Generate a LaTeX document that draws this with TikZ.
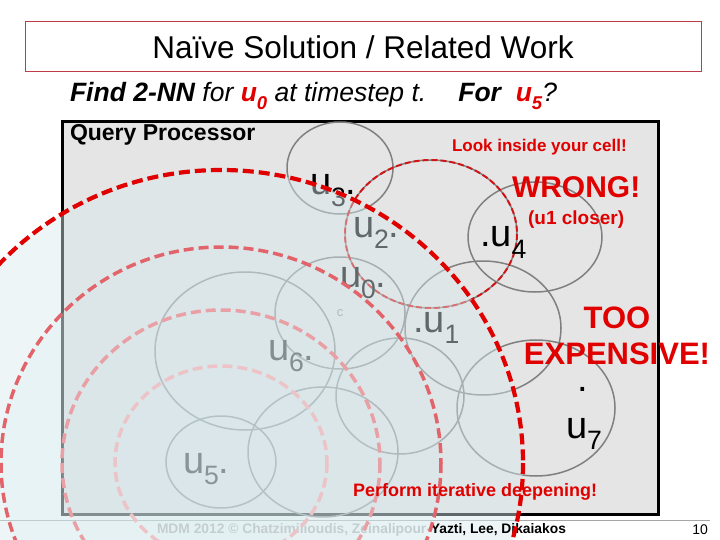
\documentclass[tikz,border=0pt]{standalone}
\usepackage{fontspec}
\setmainfont{Liberation Sans}
\usepackage{graphicx}
\usepackage{tikz}
\usetikzlibrary{positioning}
\definecolor{slidered}{RGB}{225,0,0}
\definecolor{framered}{RGB}{190,60,70}
\definecolor{cellgray}{RGB}{229,229,229}
\definecolor{ringgray}{RGB}{128,128,128}
\definecolor{veil}{RGB}{214,233,237}
\definecolor{ringtwo}{RGB}{226,100,106}
\definecolor{ringthree}{RGB}{232,160,165}
\definecolor{ringfour}{RGB}{236,196,200}
\definecolor{fadedtext}{RGB}{196,206,209}
\newcommand{\subidx}[1]{\raisebox{-0.3em}{\scalebox{0.7}{#1}}}

\begin{document}
\begin{tikzpicture}[x=1pt,y=-1pt,
  txt/.style={inner sep=0pt,outer sep=0pt},
  ptlabel/.style={txt,anchor=base west,font=\fontsize{38}{44}\selectfont},
  cell/.style={draw=ringgray,line width=1.5pt},
  callout/.style={txt,text=slidered,font=\bfseries\fontsize{18}{21}\selectfont},
  ring/.style={line width=3.5pt,dash pattern=on 10pt off 5pt}]
\clip (0,0) rectangle (720,540);
\node[draw=framered,line width=1pt,minimum width=676pt,minimum height=50pt,font=\fontsize{31.5}{36}\selectfont] (title) at (363,47) {Naïve Solution / Related Work};
\node[txt,anchor=base west,font=\itshape\fontsize{26.5}{30}\selectfont] (task) at (70,102) {\textbf{Find 2-NN} for \textcolor{slidered}{\textbf{u\subidx{0}}} at timestep t.};
\node[txt,base right=32pt of task,font=\itshape\fontsize{26.5}{30}\selectfont] (askfive) {\textbf{For \ \textcolor{slidered}{u\subidx{5}}}?};

\draw[line width=3pt,fill=cellgray] (62,122) rectangle (658,514);
\node[txt,anchor=base west,font=\bfseries\fontsize{23}{27}\selectfont] (qp) at (70,141) {Query Processor};

\draw[cell] (340,168) ellipse [x radius=53,y radius=46];
\draw[cell] (340,313) ellipse [x radius=65,y radius=56];
\draw[cell] (245,351) ellipse [x radius=90,y radius=79];
\draw[cell] (221,462) ellipse [x radius=55,y radius=46];
\draw[cell] (323,452) ellipse [x radius=75,y radius=65];
\draw[cell] (400,396) ellipse [x radius=64,y radius=58];
\draw[cell] (483,328) ellipse [x radius=78,y radius=67];
\draw[cell] (536,408) ellipse [x radius=79,y radius=68];
\draw[cell] (535,237) ellipse [x radius=67,y radius=55];
\draw[cell] (431,234) ellipse [x radius=86,y radius=74];
\draw[slidered,opacity=.85,line width=2pt,dash pattern=on 6pt off 3pt] (431,234) ellipse [x radius=86,y radius=74];

\node[ptlabel] (u3) at (310,195) {u\subidx{3}.};
\node[ptlabel] (u2) at (353,237) {u\subidx{2}.};
\node[ptlabel] (u0) at (340,287) {u\subidx{0}.};
\node[ptlabel] (u6) at (268,360) {u\subidx{6}.};
\node[ptlabel] (u5) at (183,473) {u\subidx{5}.};
\node[ptlabel] (u1) at (413,332) {.u\subidx{1}};
\node[ptlabel] (u4) at (480,247) {.u\subidx{4}};
\node[ptlabel] (u7dot) at (577,391) {.};
\node[ptlabel] (u7) at (566,438) {u\subidx{7}};
\node[txt,text=ringgray,font=\fontsize{13}{15}\selectfont] (cmark) at (340,313) {c};

\draw[ringgray!70,line width=1pt] (0,520) -- (710,520);

\fill[veil,fill opacity=.45] (221,463) ellipse [x radius=302,y radius=293];
\fill[veil,fill opacity=.2] (221,463) ellipse [x radius=220,y radius=216];
\fill[veil,fill opacity=.12] (221,463) ellipse [x radius=159,y radius=153];
\fill[veil,fill opacity=.08] (221,463) ellipse [x radius=106,y radius=97];

\node[txt,anchor=base west,font=\bfseries\fontsize{13.8}{16}\selectfont] (footer) at (157,533) {\textcolor{fadedtext}{MDM 2012 © Chatzimilioudis, Zeinalipour-}Yazti, Lee, Dikaiakos};
\node[txt,anchor=base east,font=\fontsize{14}{16}\selectfont] (pagenum) at (708,534) {10};

\draw[ring,ringfour] (221,463) ellipse [x radius=106,y radius=97];
\draw[ring,ringthree] (221,463) ellipse [x radius=159,y radius=153];
\draw[ring,ringtwo] (221,463) ellipse [x radius=220,y radius=216];
\draw[ring,slidered,line width=4.2pt,dash pattern=on 11pt off 5pt] (221,463) ellipse [x radius=302,y radius=293];

\node[callout,anchor=base west,font=\bfseries\fontsize{17}{20}\selectfont] (look) at (452,152) {Look inside your cell!};
\node[callout,anchor=base west,font=\bfseries\fontsize{30}{34}\selectfont] (wrong) at (512,198) {WRONG!};
\node[callout,below=12pt of wrong,font=\bfseries\fontsize{19}{22}\selectfont] (closer) {(u1 closer)};
\node[callout,align=center,anchor=north,text depth=0pt,font=\bfseries\fontsize{31}{36}\selectfont] (tooexp) at (617,307) {TOO\\EXPENSIVE!};
\node[callout,anchor=base west] (deepen) at (353,496) {Perform iterative deepening!};
\end{tikzpicture}
\end{document}
